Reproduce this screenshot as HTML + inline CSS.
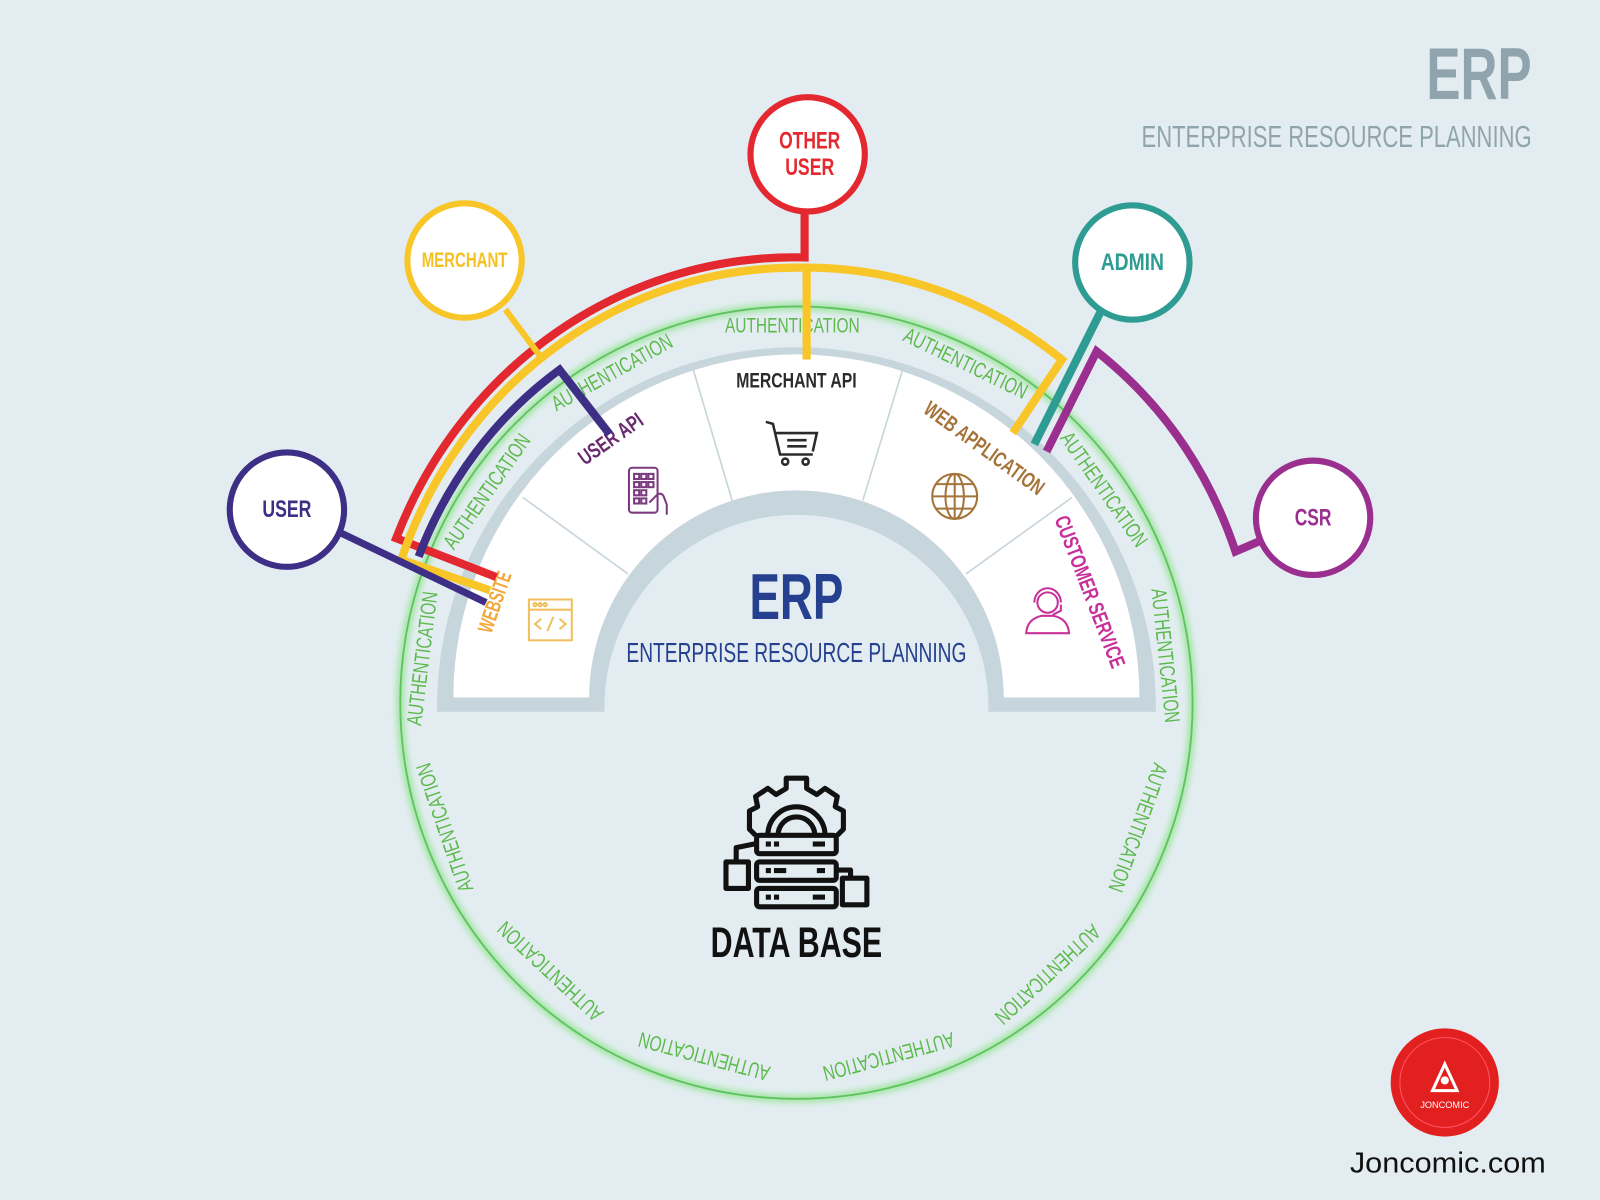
<!DOCTYPE html>
<html><head><meta charset="utf-8"><style>
html,body{margin:0;padding:0;background:#e3edf1;}
svg{display:block;}
text{font-family:"Liberation Sans Narrow","Liberation Sans",sans-serif;}
</style></head><body>
<svg width="1600" height="1200" viewBox="0 0 1567 1175" xmlns="http://www.w3.org/2000/svg">
<defs>
<filter id="glow" x="-20%" y="-20%" width="140%" height="140%"><feGaussianBlur stdDeviation="3"/></filter>
</defs>
<rect width="1567" height="1175" fill="#e3edf1"/>

<circle cx="780" cy="688" r="388" fill="none" stroke="#9be59b" stroke-width="7" filter="url(#glow)"/>
<circle cx="780" cy="688" r="388" fill="none" stroke="#5fc45f" stroke-width="1.8"/>

<path d="M428,697 L428,692 A352,352 0 0 1 1132,692 L1132,697 L968,697 L968,692 A188,188 0 0 0 592,692 L592,697 Z" fill="#c7d5dc"/>
<path d="M444,683 A336,336 0 0 1 1116,683 L983,683 A203,203 0 0 0 577,683 Z" fill="#ffffff"/>
<g stroke="#c7d5dc" stroke-width="1.6">
<line x1="615" y1="562" x2="512" y2="487"/>
<line x1="717" y1="490" x2="679" y2="362"/>
<line x1="845" y1="490" x2="884" y2="362"/>
<line x1="946" y1="562" x2="1050" y2="487"/>
</g>

<g fill="#5cba4c" font-size="21" text-anchor="middle" dominant-baseline="middle">
<text transform="translate(415,645) rotate(-83)" textLength="132" lengthAdjust="spacingAndGlyphs">AUTHENTICATION</text>
<text transform="translate(478,482) rotate(-55)" textLength="132" lengthAdjust="spacingAndGlyphs">AUTHENTICATION</text>
<text transform="translate(600,366) rotate(-29)" textLength="132" lengthAdjust="spacingAndGlyphs">AUTHENTICATION</text>
<text transform="translate(776,320) rotate(0)" textLength="132" lengthAdjust="spacingAndGlyphs">AUTHENTICATION</text>
<text transform="translate(945,357) rotate(26)" textLength="132" lengthAdjust="spacingAndGlyphs">AUTHENTICATION</text>
<text transform="translate(1080,480) rotate(55)" textLength="132" lengthAdjust="spacingAndGlyphs">AUTHENTICATION</text>
<text transform="translate(1140,642) rotate(84)" textLength="132" lengthAdjust="spacingAndGlyphs">AUTHENTICATION</text>
<text transform="translate(437,810) rotate(-109)" textLength="132" lengthAdjust="spacingAndGlyphs">AUTHENTICATION</text>
<text transform="translate(540,950) rotate(-137)" textLength="132" lengthAdjust="spacingAndGlyphs">AUTHENTICATION</text>
<text transform="translate(690,1033) rotate(-165)" textLength="132" lengthAdjust="spacingAndGlyphs">AUTHENTICATION</text>
<text transform="translate(870,1033) rotate(165)" textLength="132" lengthAdjust="spacingAndGlyphs">AUTHENTICATION</text>
<text transform="translate(1025,953) rotate(137)" textLength="132" lengthAdjust="spacingAndGlyphs">AUTHENTICATION</text>
<text transform="translate(1113,810) rotate(110)" textLength="132" lengthAdjust="spacingAndGlyphs">AUTHENTICATION</text>
</g>

<g font-size="21" font-weight="bold" text-anchor="middle" dominant-baseline="middle">
<text transform="translate(486,590) rotate(-71)" fill="#f2a93b" textLength="62" lengthAdjust="spacingAndGlyphs">WEBSITE</text>
<text transform="translate(599,431) rotate(-35)" fill="#6b2a6f" textLength="72" lengthAdjust="spacingAndGlyphs">USER API</text>
<text transform="translate(780,374)" fill="#2b2b2b" textLength="118" lengthAdjust="spacingAndGlyphs">MERCHANT API</text>
<text transform="translate(963,440) rotate(36)" fill="#a5743a" textLength="140" lengthAdjust="spacingAndGlyphs">WEB APPLICATION</text>
<text transform="translate(1066,580) rotate(69)" fill="#c8309a" textLength="158" lengthAdjust="spacingAndGlyphs">CUSTOMER SERVICE</text>
</g>

<g fill="none" stroke-width="2">
<g stroke="#f0c060"><rect x="518" y="587" width="42" height="40"/><line x1="518" y1="597" x2="560" y2="597"/>
<circle cx="524" cy="592" r="1.6"/><circle cx="529" cy="592" r="1.6"/><circle cx="534" cy="592" r="1.6"/>
<path d="M530,606 l-6,5 l6,5 M548,606 l6,5 l-6,5 M542,604 l-6,14"/></g>
<g stroke="#7b3a7f"><rect x="616" y="458" width="28" height="44" rx="3"/>
<rect x="621" y="464" width="5" height="5"/><rect x="628" y="464" width="5" height="5"/><rect x="635" y="464" width="5" height="5"/>
<rect x="621" y="472" width="5" height="5"/><rect x="628" y="472" width="5" height="5"/><rect x="635" y="472" width="5" height="5"/>
<rect x="621" y="480" width="5" height="5"/><rect x="628" y="480" width="5" height="5"/>
<rect x="621" y="488" width="5" height="5"/><rect x="628" y="488" width="5" height="5"/>
<path d="M636,492 l8,-8 q4,-2 6,2 l3,8 l0,10"/></g>
<g stroke="#2b2b2b" stroke-width="2.5"><path d="M750,413 l7,2 l7,30 l32,0 M760,424 l40,0 l-4,18"/>
<line x1="771" y1="431" x2="790" y2="431"/><line x1="771" y1="437" x2="790" y2="437"/>
<circle cx="769" cy="452" r="3"/><circle cx="789" cy="452" r="3"/></g>
<g stroke="#a5743a"><circle cx="935" cy="486" r="22"/><ellipse cx="935" cy="486" rx="9" ry="22"/>
<line x1="913" y1="486" x2="957" y2="486"/><line x1="935" y1="464" x2="935" y2="508"/>
<line x1="917" y1="474" x2="953" y2="474"/><line x1="917" y1="498" x2="953" y2="498"/></g>
<g stroke="#c8309a"><circle cx="1026" cy="590" r="10"/><path d="M1013,590 a13,14 0 0 1 26,0 M1039,592 l0,6 l-8,4"/>
<path d="M1005,620 q1,-14 15,-17 l12,0 q14,3 15,17 z"/></g>
</g>

<text x="780" y="606" text-anchor="middle" font-size="64" font-weight="bold" fill="#24408e" textLength="92" lengthAdjust="spacingAndGlyphs">ERP</text>
<text x="780" y="648" text-anchor="middle" font-size="27" fill="#24408e" textLength="333" lengthAdjust="spacingAndGlyphs">ENTERPRISE RESOURCE PLANNING</text>

<g fill="none" stroke="#111" stroke-width="5" stroke-linejoin="round">
<path d="M740,818 l-6,-6 l0,-18 l8,-4 l-2,-10 l12,-8 l8,6 l10,-6 l0,-10 l20,0 l0,10 l10,6 l8,-6 l12,8 l-2,10 l8,4 l0,18 l-6,6"/>
<path d="M752,818 a28,28 0 0 1 56,0"/><path d="M762,818 a18,18 0 0 1 36,0"/>
<rect x="741" y="818" width="78" height="18" rx="3"/>
<rect x="741" y="844" width="78" height="18" rx="3"/>
<rect x="741" y="870" width="78" height="18" rx="3"/>
<path d="M741,826 l-20,4 l0,14"/><rect x="711" y="844" width="22" height="26"/>
<path d="M819,852 l14,0 l0,8"/><rect x="825" y="860" width="24" height="26"/>
</g>
<g fill="#111"><rect x="750" y="824" width="5" height="5"/><rect x="758" y="824" width="5" height="5"/><rect x="796" y="824" width="12" height="5"/>
<rect x="750" y="850" width="5" height="5"/><rect x="758" y="850" width="12" height="5"/><rect x="800" y="850" width="8" height="5"/>
<rect x="750" y="876" width="5" height="5"/><rect x="758" y="876" width="5" height="5"/><rect x="796" y="876" width="12" height="5"/></g>
<text x="780" y="937" text-anchor="middle" font-size="42" font-weight="bold" fill="#111" textLength="168" lengthAdjust="spacingAndGlyphs">DATA BASE</text>

<g fill="none" stroke-width="8" stroke-linejoin="miter">
<path d="M788,205 L788,252 A420,438 0 0 0 388,527 L486,565" stroke="#e3282f"/>
<path d="M480,578 L393,548 A410,428 0 0 1 780,262 A410,428 0 0 1 1040,352 L992,424" stroke="#f9c62a"/>
<path d="M790,262 L790,352" stroke="#f9c62a"/>
<path d="M495,303 L530,350" stroke="#f9c62a" stroke-width="6"/>
<path d="M410,545 A388,405 0 0 1 548,362 L597,425" stroke="#3e2f86"/>
<path d="M330,520 L476,590" stroke="#3e2f86" stroke-width="7"/>
<path d="M1078,305 L1013,435" stroke="#2f9c93"/>
<path d="M1025,442 L1074,344 Q1170,420 1210,540 L1238,528" stroke="#9b2f8f"/>
</g>

<g stroke-width="6" fill="#ffffff">
<circle cx="791" cy="151" r="56" stroke="#e3282f"/>
<circle cx="455" cy="255" r="56" stroke="#f9c62a"/>
<circle cx="1109" cy="257" r="56" stroke="#2f9c93"/>
<circle cx="281" cy="499" r="56" stroke="#3e2f86"/>
<circle cx="1286" cy="507" r="56" stroke="#9b2f8f"/>
</g>
<g font-size="24" font-weight="bold" text-anchor="middle" dominant-baseline="middle">
<text x="793" y="139" fill="#e3282f" textLength="60" lengthAdjust="spacingAndGlyphs">OTHER</text>
<text x="793" y="165" fill="#e3282f" textLength="48" lengthAdjust="spacingAndGlyphs">USER</text>
<text x="455" y="256" fill="#f5c020" font-size="21" textLength="84" lengthAdjust="spacingAndGlyphs">MERCHANT</text>
<text x="1109" y="258" fill="#2f9c93" textLength="62" lengthAdjust="spacingAndGlyphs">ADMIN</text>
<text x="281" y="500" fill="#3e2f86" textLength="48" lengthAdjust="spacingAndGlyphs">USER</text>
<text x="1286" y="508" fill="#9b2f8f" textLength="36" lengthAdjust="spacingAndGlyphs">CSR</text>
</g>

<text x="1500" y="97" text-anchor="end" font-size="72" font-weight="bold" fill="#8fa4ac" textLength="103" lengthAdjust="spacingAndGlyphs">ERP</text>
<text x="1500" y="144" text-anchor="end" font-size="30" fill="#8fa4ac" textLength="382" lengthAdjust="spacingAndGlyphs">ENTERPRISE RESOURCE PLANNING</text>

<circle cx="1415" cy="1060" r="53" fill="#e2201f"/>
<circle cx="1415" cy="1060" r="44" fill="none" stroke="#f56" stroke-width="1"/>
<path d="M1403,1068 l12,-26 l12,26 z" fill="none" stroke="#fff" stroke-width="3"/>
<circle cx="1415" cy="1058" r="4" fill="#fff"/>
<text x="1415" y="1085" text-anchor="middle" font-size="9" fill="#fff" font-family="Liberation Serif,serif">JONCOMIC</text>
<text x="1418" y="1148" text-anchor="middle" font-size="28" fill="#111" style="font-family:'Liberation Sans',sans-serif" textLength="192" lengthAdjust="spacingAndGlyphs">Joncomic.com</text>
</svg>
</body></html>
